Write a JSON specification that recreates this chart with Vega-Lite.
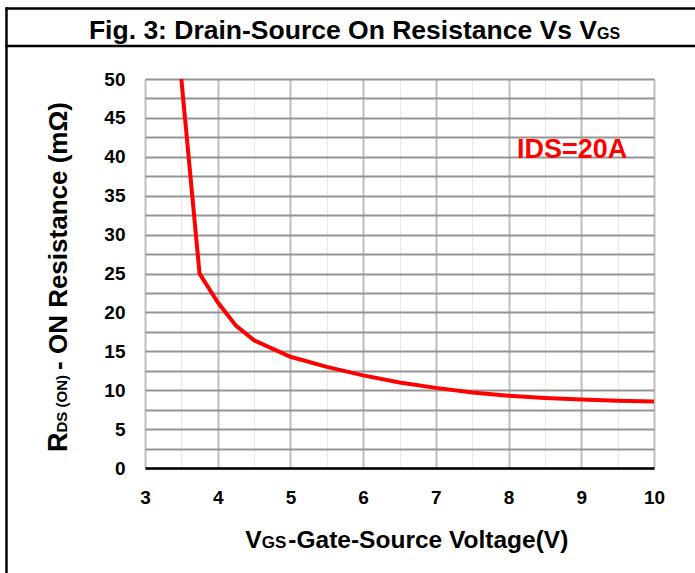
{
  "$schema": "https://vega.github.io/schema/vega-lite/v6.json",
  "width": 509,
  "height": 389,
  "autosize": "none",
  "padding": {"left": 145, "top": 79, "right": 41, "bottom": 105},
  "background": "white",
  "config": {
    "view": {"stroke": null},
    "font": "Liberation Sans",
    "text": {"font": "Liberation Sans", "fontWeight": "bold", "color": "#000000"},
    "axis": {
      "title": null,
      "grid": true,
      "ticks": false,
      "labelFont": "Liberation Sans",
      "labelFontSize": 19,
      "labelFontWeight": "bold",
      "labelColor": "#000000",
      "labelPadding": 20,
      "labelOverlap": false
    }
  },
  "datasets": {
    "curve": [
      {"vgs": 3.5, "rds": 50},
      {"vgs": 3.75, "rds": 25},
      {"vgs": 4.0, "rds": 21.3},
      {"vgs": 4.25, "rds": 18.3},
      {"vgs": 4.5, "rds": 16.4},
      {"vgs": 5.0, "rds": 14.3},
      {"vgs": 5.5, "rds": 13.0},
      {"vgs": 6.0, "rds": 11.9},
      {"vgs": 6.5, "rds": 11.0},
      {"vgs": 7.0, "rds": 10.3},
      {"vgs": 7.5, "rds": 9.7},
      {"vgs": 8.0, "rds": 9.3},
      {"vgs": 8.5, "rds": 9.0},
      {"vgs": 9.0, "rds": 8.8},
      {"vgs": 9.5, "rds": 8.65},
      {"vgs": 10.0, "rds": 8.55}
    ]
  },
  "layer": [
    {
      "data": {"name": "curve"},
      "mark": {"type": "line", "color": "#ff0000", "strokeWidth": 4, "clip": false},
      "encoding": {
        "x": {
          "field": "vgs", "type": "quantitative",
          "scale": {"domain": [3, 10], "nice": false, "zero": false},
          "axis": {"title": null, "values": [3, 3.5, 4, 4.5, 5, 5.5, 6, 6.5, 7, 7.5, 8, 8.5, 9, 9.5, 10], "labelExpr": "datum.value % 1 === 0 ? format(datum.value, 'd') : ''", "gridColor": {"condition": {"test": "datum.value % 1 !== 0", "value": "#e8e8e8"}, "value": "#bdbdbd"}, "gridWidth": {"condition": {"test": "datum.value % 1 !== 0", "value": 1}, "value": 2}, "domain": true, "domainColor": "#000000", "domainWidth": 2.5, "labelFlush": false}
        },
        "y": {
          "field": "rds", "type": "quantitative",
          "scale": {"domain": [0, 50], "nice": false, "zero": true},
          "axis": {"title": null, "values": [0, 2.5, 5, 7.5, 10, 12.5, 15, 17.5, 20, 22.5, 25, 27.5, 30, 32.5, 35, 37.5, 40, 42.5, 45, 47.5, 50], "labelExpr": "datum.value % 5 === 0 ? format(datum.value, 'd') : ''", "gridColor": "#949494", "gridWidth": 2, "domain": false}
        }
      }
    },
    {
      "data": {"values": [{"frame": "top"}]},
      "mark": {"type": "rule", "color": "#000000", "strokeWidth": 2.5, "clip": false},
      "encoding": {
        "x": {"datum": 1.08, "type": "quantitative", "scale": {"domain": [3, 10], "nice": false, "zero": false}, "axis": {"title": null, "values": [3, 3.5, 4, 4.5, 5, 5.5, 6, 6.5, 7, 7.5, 8, 8.5, 9, 9.5, 10], "labelExpr": "datum.value % 1 === 0 ? format(datum.value, 'd') : ''", "gridColor": {"condition": {"test": "datum.value % 1 !== 0", "value": "#e8e8e8"}, "value": "#bdbdbd"}, "gridWidth": {"condition": {"test": "datum.value % 1 !== 0", "value": 1}, "value": 2}, "domain": true, "domainColor": "#000000", "domainWidth": 2.5, "labelFlush": false}},
        "x2": {"datum": 10.7},
        "y": {"datum": 59.06, "type": "quantitative", "scale": {"domain": [0, 50], "nice": false, "zero": true}, "axis": {"title": null, "values": [0, 2.5, 5, 7.5, 10, 12.5, 15, 17.5, 20, 22.5, 25, 27.5, 30, 32.5, 35, 37.5, 40, 42.5, 45, 47.5, 50], "labelExpr": "datum.value % 5 === 0 ? format(datum.value, 'd') : ''", "gridColor": "#949494", "gridWidth": 2, "domain": false}}
      }
    },
    {
      "data": {"values": [{"frame": "title"}]},
      "mark": {"type": "rule", "color": "#000000", "strokeWidth": 2.5, "clip": false},
      "encoding": {
        "x": {"datum": 1.08, "type": "quantitative", "scale": {"domain": [3, 10], "nice": false, "zero": false}, "axis": {"title": null, "values": [3, 3.5, 4, 4.5, 5, 5.5, 6, 6.5, 7, 7.5, 8, 8.5, 9, 9.5, 10], "labelExpr": "datum.value % 1 === 0 ? format(datum.value, 'd') : ''", "gridColor": {"condition": {"test": "datum.value % 1 !== 0", "value": "#e8e8e8"}, "value": "#bdbdbd"}, "gridWidth": {"condition": {"test": "datum.value % 1 !== 0", "value": 1}, "value": 2}, "domain": true, "domainColor": "#000000", "domainWidth": 2.5, "labelFlush": false}},
        "x2": {"datum": 10.7},
        "y": {"datum": 54.24, "type": "quantitative", "scale": {"domain": [0, 50], "nice": false, "zero": true}, "axis": {"title": null, "values": [0, 2.5, 5, 7.5, 10, 12.5, 15, 17.5, 20, 22.5, 25, 27.5, 30, 32.5, 35, 37.5, 40, 42.5, 45, 47.5, 50], "labelExpr": "datum.value % 5 === 0 ? format(datum.value, 'd') : ''", "gridColor": "#949494", "gridWidth": 2, "domain": false}}
      }
    },
    {
      "data": {"values": [{"frame": "left"}]},
      "mark": {"type": "rule", "color": "#000000", "strokeWidth": 2.5, "clip": false},
      "encoding": {
        "x": {"datum": 1.095, "type": "quantitative", "scale": {"domain": [3, 10], "nice": false, "zero": false}, "axis": {"title": null, "values": [3, 3.5, 4, 4.5, 5, 5.5, 6, 6.5, 7, 7.5, 8, 8.5, 9, 9.5, 10], "labelExpr": "datum.value % 1 === 0 ? format(datum.value, 'd') : ''", "gridColor": {"condition": {"test": "datum.value % 1 !== 0", "value": "#e8e8e8"}, "value": "#bdbdbd"}, "gridWidth": {"condition": {"test": "datum.value % 1 !== 0", "value": 1}, "value": 2}, "domain": true, "domainColor": "#000000", "domainWidth": 2.5, "labelFlush": false}},
        "y": {"datum": 59.2, "type": "quantitative", "scale": {"domain": [0, 50], "nice": false, "zero": true}, "axis": {"title": null, "values": [0, 2.5, 5, 7.5, 10, 12.5, 15, 17.5, 20, 22.5, 25, 27.5, 30, 32.5, 35, 37.5, 40, 42.5, 45, 47.5, 50], "labelExpr": "datum.value % 5 === 0 ? format(datum.value, 'd') : ''", "gridColor": "#949494", "gridWidth": 2, "domain": false}},
        "y2": {"datum": -15}
      }
    },
    {
      "data": {"values": [{"label": "Fig. 3: Drain-Source On Resistance Vs V"}]},
      "mark": {"type": "text", "fontSize": 26.5, "align": "right", "baseline": "alphabetic"},
      "encoding": {
        "text": {"field": "label"},
        "x": {"datum": 9.216, "type": "quantitative", "scale": {"domain": [3, 10], "nice": false, "zero": false}, "axis": {"title": null, "values": [3, 3.5, 4, 4.5, 5, 5.5, 6, 6.5, 7, 7.5, 8, 8.5, 9, 9.5, 10], "labelExpr": "datum.value % 1 === 0 ? format(datum.value, 'd') : ''", "gridColor": {"condition": {"test": "datum.value % 1 !== 0", "value": "#e8e8e8"}, "value": "#bdbdbd"}, "gridWidth": {"condition": {"test": "datum.value % 1 !== 0", "value": 1}, "value": 2}, "domain": true, "domainColor": "#000000", "domainWidth": 2.5, "labelFlush": false}},
        "y": {"datum": 55.1, "type": "quantitative", "scale": {"domain": [0, 50], "nice": false, "zero": true}, "axis": {"title": null, "values": [0, 2.5, 5, 7.5, 10, 12.5, 15, 17.5, 20, 22.5, 25, 27.5, 30, 32.5, 35, 37.5, 40, 42.5, 45, 47.5, 50], "labelExpr": "datum.value % 5 === 0 ? format(datum.value, 'd') : ''", "gridColor": "#949494", "gridWidth": 2, "domain": false}}
      }
    },
    {
      "data": {"values": [{"label": "GS"}]},
      "mark": {"type": "text", "fontSize": 16, "align": "left", "baseline": "alphabetic"},
      "encoding": {
        "text": {"field": "label"},
        "x": {"datum": 9.216, "type": "quantitative", "scale": {"domain": [3, 10], "nice": false, "zero": false}, "axis": {"title": null, "values": [3, 3.5, 4, 4.5, 5, 5.5, 6, 6.5, 7, 7.5, 8, 8.5, 9, 9.5, 10], "labelExpr": "datum.value % 1 === 0 ? format(datum.value, 'd') : ''", "gridColor": {"condition": {"test": "datum.value % 1 !== 0", "value": "#e8e8e8"}, "value": "#bdbdbd"}, "gridWidth": {"condition": {"test": "datum.value % 1 !== 0", "value": 1}, "value": 2}, "domain": true, "domainColor": "#000000", "domainWidth": 2.5, "labelFlush": false}},
        "y": {"datum": 55.1, "type": "quantitative", "scale": {"domain": [0, 50], "nice": false, "zero": true}, "axis": {"title": null, "values": [0, 2.5, 5, 7.5, 10, 12.5, 15, 17.5, 20, 22.5, 25, 27.5, 30, 32.5, 35, 37.5, 40, 42.5, 45, 47.5, 50], "labelExpr": "datum.value % 5 === 0 ? format(datum.value, 'd') : ''", "gridColor": "#949494", "gridWidth": 2, "domain": false}}
      }
    },
    {
      "data": {"values": [{"label": "V"}]},
      "mark": {"type": "text", "fontSize": 24.5, "align": "right", "baseline": "alphabetic"},
      "encoding": {
        "text": {"field": "label"},
        "x": {"datum": 4.605, "type": "quantitative", "scale": {"domain": [3, 10], "nice": false, "zero": false}, "axis": {"title": null, "values": [3, 3.5, 4, 4.5, 5, 5.5, 6, 6.5, 7, 7.5, 8, 8.5, 9, 9.5, 10], "labelExpr": "datum.value % 1 === 0 ? format(datum.value, 'd') : ''", "gridColor": {"condition": {"test": "datum.value % 1 !== 0", "value": "#e8e8e8"}, "value": "#bdbdbd"}, "gridWidth": {"condition": {"test": "datum.value % 1 !== 0", "value": 1}, "value": 2}, "domain": true, "domainColor": "#000000", "domainWidth": 2.5, "labelFlush": false}},
        "y": {"datum": -10.32, "type": "quantitative", "scale": {"domain": [0, 50], "nice": false, "zero": true}, "axis": {"title": null, "values": [0, 2.5, 5, 7.5, 10, 12.5, 15, 17.5, 20, 22.5, 25, 27.5, 30, 32.5, 35, 37.5, 40, 42.5, 45, 47.5, 50], "labelExpr": "datum.value % 5 === 0 ? format(datum.value, 'd') : ''", "gridColor": "#949494", "gridWidth": 2, "domain": false}}
      }
    },
    {
      "data": {"values": [{"label": "GS"}]},
      "mark": {"type": "text", "fontSize": 17, "align": "left", "baseline": "alphabetic"},
      "encoding": {
        "text": {"field": "label"},
        "x": {"datum": 4.605, "type": "quantitative", "scale": {"domain": [3, 10], "nice": false, "zero": false}, "axis": {"title": null, "values": [3, 3.5, 4, 4.5, 5, 5.5, 6, 6.5, 7, 7.5, 8, 8.5, 9, 9.5, 10], "labelExpr": "datum.value % 1 === 0 ? format(datum.value, 'd') : ''", "gridColor": {"condition": {"test": "datum.value % 1 !== 0", "value": "#e8e8e8"}, "value": "#bdbdbd"}, "gridWidth": {"condition": {"test": "datum.value % 1 !== 0", "value": 1}, "value": 2}, "domain": true, "domainColor": "#000000", "domainWidth": 2.5, "labelFlush": false}},
        "y": {"datum": -10.32, "type": "quantitative", "scale": {"domain": [0, 50], "nice": false, "zero": true}, "axis": {"title": null, "values": [0, 2.5, 5, 7.5, 10, 12.5, 15, 17.5, 20, 22.5, 25, 27.5, 30, 32.5, 35, 37.5, 40, 42.5, 45, 47.5, 50], "labelExpr": "datum.value % 5 === 0 ? format(datum.value, 'd') : ''", "gridColor": "#949494", "gridWidth": 2, "domain": false}}
      }
    },
    {
      "data": {"values": [{"label": "-Gate-Source Voltage(V)"}]},
      "mark": {"type": "text", "fontSize": 24.5, "align": "left", "baseline": "alphabetic"},
      "encoding": {
        "text": {"field": "label"},
        "x": {"datum": 4.971, "type": "quantitative", "scale": {"domain": [3, 10], "nice": false, "zero": false}, "axis": {"title": null, "values": [3, 3.5, 4, 4.5, 5, 5.5, 6, 6.5, 7, 7.5, 8, 8.5, 9, 9.5, 10], "labelExpr": "datum.value % 1 === 0 ? format(datum.value, 'd') : ''", "gridColor": {"condition": {"test": "datum.value % 1 !== 0", "value": "#e8e8e8"}, "value": "#bdbdbd"}, "gridWidth": {"condition": {"test": "datum.value % 1 !== 0", "value": 1}, "value": 2}, "domain": true, "domainColor": "#000000", "domainWidth": 2.5, "labelFlush": false}},
        "y": {"datum": -10.32, "type": "quantitative", "scale": {"domain": [0, 50], "nice": false, "zero": true}, "axis": {"title": null, "values": [0, 2.5, 5, 7.5, 10, 12.5, 15, 17.5, 20, 22.5, 25, 27.5, 30, 32.5, 35, 37.5, 40, 42.5, 45, 47.5, 50], "labelExpr": "datum.value % 5 === 0 ? format(datum.value, 'd') : ''", "gridColor": "#949494", "gridWidth": 2, "domain": false}}
      }
    },
    {
      "data": {"values": [{"label": "R"}]},
      "mark": {"type": "text", "fontSize": 27, "align": "left", "baseline": "alphabetic", "angle": 270},
      "encoding": {
        "text": {"field": "label"},
        "x": {"datum": 1.927, "type": "quantitative", "scale": {"domain": [3, 10], "nice": false, "zero": false}, "axis": {"title": null, "values": [3, 3.5, 4, 4.5, 5, 5.5, 6, 6.5, 7, 7.5, 8, 8.5, 9, 9.5, 10], "labelExpr": "datum.value % 1 === 0 ? format(datum.value, 'd') : ''", "gridColor": {"condition": {"test": "datum.value % 1 !== 0", "value": "#e8e8e8"}, "value": "#bdbdbd"}, "gridWidth": {"condition": {"test": "datum.value % 1 !== 0", "value": 1}, "value": 2}, "domain": true, "domainColor": "#000000", "domainWidth": 2.5, "labelFlush": false}},
        "y": {"datum": 2.057, "type": "quantitative", "scale": {"domain": [0, 50], "nice": false, "zero": true}, "axis": {"title": null, "values": [0, 2.5, 5, 7.5, 10, 12.5, 15, 17.5, 20, 22.5, 25, 27.5, 30, 32.5, 35, 37.5, 40, 42.5, 45, 47.5, 50], "labelExpr": "datum.value % 5 === 0 ? format(datum.value, 'd') : ''", "gridColor": "#949494", "gridWidth": 2, "domain": false}}
      }
    },
    {
      "data": {"values": [{"label": "DS (ON)"}]},
      "mark": {"type": "text", "fontSize": 15, "align": "left", "baseline": "alphabetic", "angle": 270},
      "encoding": {
        "text": {"field": "label"},
        "x": {"datum": 1.927, "type": "quantitative", "scale": {"domain": [3, 10], "nice": false, "zero": false}, "axis": {"title": null, "values": [3, 3.5, 4, 4.5, 5, 5.5, 6, 6.5, 7, 7.5, 8, 8.5, 9, 9.5, 10], "labelExpr": "datum.value % 1 === 0 ? format(datum.value, 'd') : ''", "gridColor": {"condition": {"test": "datum.value % 1 !== 0", "value": "#e8e8e8"}, "value": "#bdbdbd"}, "gridWidth": {"condition": {"test": "datum.value % 1 !== 0", "value": 1}, "value": 2}, "domain": true, "domainColor": "#000000", "domainWidth": 2.5, "labelFlush": false}},
        "y": {"datum": 4.56, "type": "quantitative", "scale": {"domain": [0, 50], "nice": false, "zero": true}, "axis": {"title": null, "values": [0, 2.5, 5, 7.5, 10, 12.5, 15, 17.5, 20, 22.5, 25, 27.5, 30, 32.5, 35, 37.5, 40, 42.5, 45, 47.5, 50], "labelExpr": "datum.value % 5 === 0 ? format(datum.value, 'd') : ''", "gridColor": "#949494", "gridWidth": 2, "domain": false}}
      }
    },
    {
      "data": {"values": [{"label": "- ON Resistance  (mΩ)"}]},
      "mark": {"type": "text", "fontSize": 26, "align": "left", "baseline": "alphabetic", "angle": 270},
      "encoding": {
        "text": {"field": "label"},
        "x": {"datum": 1.927, "type": "quantitative", "scale": {"domain": [3, 10], "nice": false, "zero": false}, "axis": {"title": null, "values": [3, 3.5, 4, 4.5, 5, 5.5, 6, 6.5, 7, 7.5, 8, 8.5, 9, 9.5, 10], "labelExpr": "datum.value % 1 === 0 ? format(datum.value, 'd') : ''", "gridColor": {"condition": {"test": "datum.value % 1 !== 0", "value": "#e8e8e8"}, "value": "#bdbdbd"}, "gridWidth": {"condition": {"test": "datum.value % 1 !== 0", "value": 1}, "value": 2}, "domain": true, "domainColor": "#000000", "domainWidth": 2.5, "labelFlush": false}},
        "y": {"datum": 12.6, "type": "quantitative", "scale": {"domain": [0, 50], "nice": false, "zero": true}, "axis": {"title": null, "values": [0, 2.5, 5, 7.5, 10, 12.5, 15, 17.5, 20, 22.5, 25, 27.5, 30, 32.5, 35, 37.5, 40, 42.5, 45, 47.5, 50], "labelExpr": "datum.value % 5 === 0 ? format(datum.value, 'd') : ''", "gridColor": "#949494", "gridWidth": 2, "domain": false}}
      }
    },
    {
      "data": {"values": [{"label": "IDS=20A"}]},
      "mark": {"type": "text", "fontSize": 27, "align": "left", "baseline": "alphabetic", "color": "#ff0000"},
      "encoding": {
        "text": {"field": "label"},
        "x": {"datum": 8.116, "type": "quantitative", "scale": {"domain": [3, 10], "nice": false, "zero": false}, "axis": {"title": null, "values": [3, 3.5, 4, 4.5, 5, 5.5, 6, 6.5, 7, 7.5, 8, 8.5, 9, 9.5, 10], "labelExpr": "datum.value % 1 === 0 ? format(datum.value, 'd') : ''", "gridColor": {"condition": {"test": "datum.value % 1 !== 0", "value": "#e8e8e8"}, "value": "#bdbdbd"}, "gridWidth": {"condition": {"test": "datum.value % 1 !== 0", "value": 1}, "value": 2}, "domain": true, "domainColor": "#000000", "domainWidth": 2.5, "labelFlush": false}},
        "y": {"datum": 39.81, "type": "quantitative", "scale": {"domain": [0, 50], "nice": false, "zero": true}, "axis": {"title": null, "values": [0, 2.5, 5, 7.5, 10, 12.5, 15, 17.5, 20, 22.5, 25, 27.5, 30, 32.5, 35, 37.5, 40, 42.5, 45, 47.5, 50], "labelExpr": "datum.value % 5 === 0 ? format(datum.value, 'd') : ''", "gridColor": "#949494", "gridWidth": 2, "domain": false}}
      }
    }
  ]
}
